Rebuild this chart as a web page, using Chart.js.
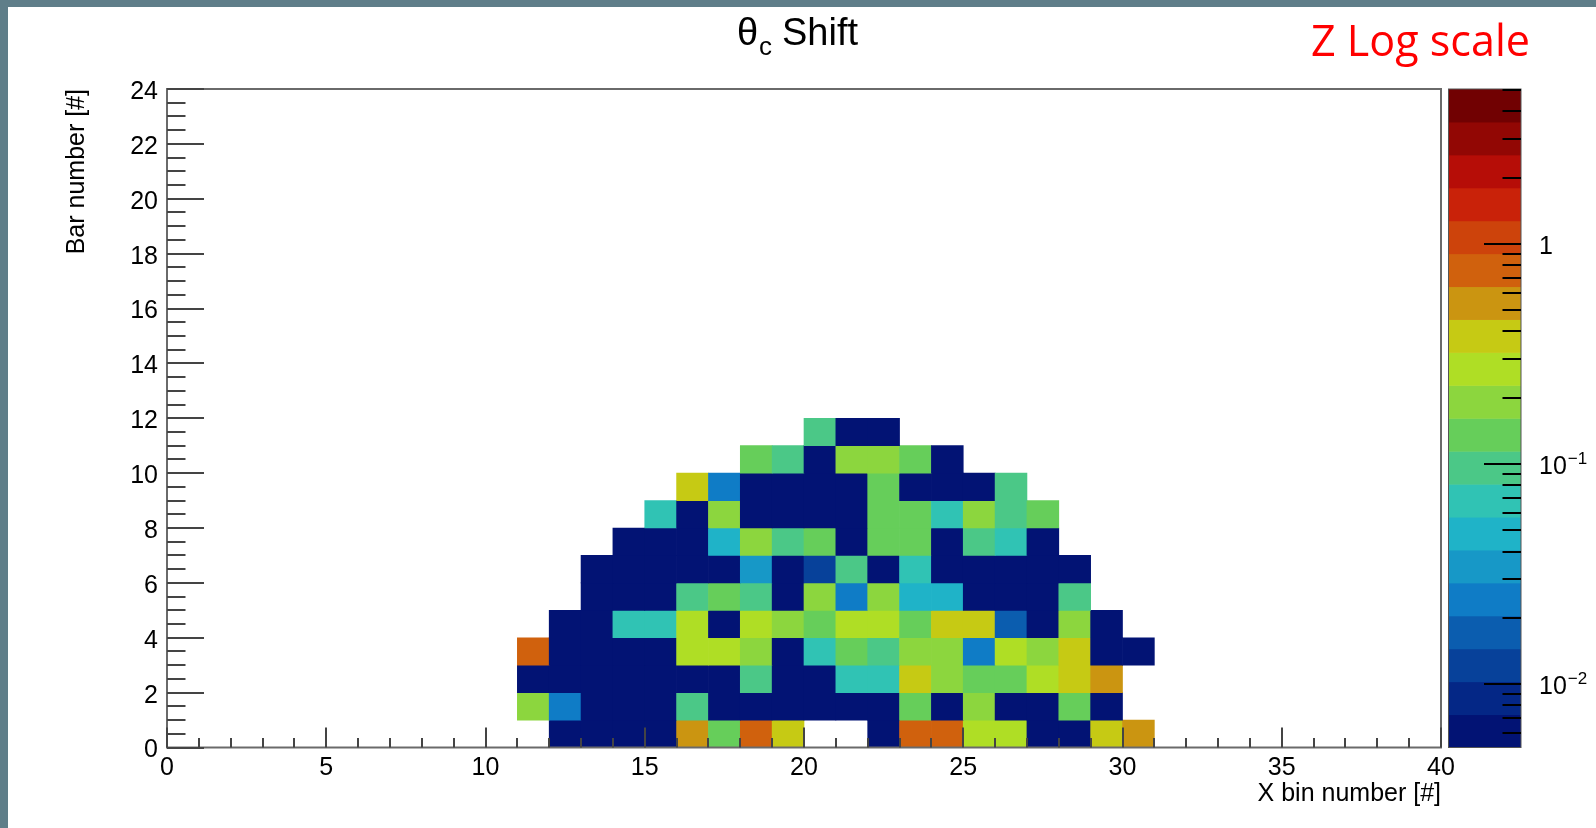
<!DOCTYPE html>
<html>
<head>
<meta charset="utf-8">
<script src="https://cdn.jsdelivr.net/npm/chart.js@4.4.1/dist/chart.umd.min.js"></script>
<style>
html,body{margin:0;padding:0;background:#fff;overflow:hidden}
canvas{display:block}
</style>
</head>
<body>
<canvas id="c" width="1596" height="828"></canvas>
<script>
// ---------------- DATA ----------------
// lower edges of the x bins that carry content (bins are 1 unit wide)
const xBinEdges = [11,12,13,14,15,16,17,18,19,20,21,22,23,24,25,26,27,28,29,30];
// lower edges of the bar (y) bins
const yBinEdges = [0,1,2,3,4,5,6,7,8,9,10,11];
// z content per bar row (x bins 11..30), null = empty bin
const zRow0  = [null,0.006,0.006,0.006,0.006,0.53,0.135,0.75,0.38,null,null,0.006,0.75,0.75,0.27,0.27,0.006,0.006,0.38,0.53];
const zRow1  = [0.19,0.024,0.006,0.006,0.006,0.095,0.006,0.006,0.006,0.006,0.006,0.006,0.135,0.006,0.19,0.006,0.006,0.135,0.006,null];
const zRow2  = [0.006,0.006,0.006,0.006,0.006,0.006,0.006,0.095,0.006,0.006,0.068,0.068,0.38,0.19,0.135,0.135,0.27,0.38,0.53,null];
const zRow3  = [0.75,0.006,0.006,0.006,0.006,0.27,0.27,0.19,0.006,0.068,0.135,0.095,0.19,0.19,0.024,0.27,0.19,0.38,0.006,0.006];
const zRow4  = [null,0.006,0.006,0.068,0.068,0.27,0.006,0.27,0.19,0.135,0.27,0.27,0.135,0.38,0.38,0.017,0.006,0.19,0.006,null];
const zRow5  = [null,null,0.006,0.006,0.006,0.095,0.135,0.095,0.006,0.19,0.024,0.19,0.048,0.048,0.006,0.006,0.006,0.095,null,null];
const zRow6  = [null,null,0.006,0.006,0.006,0.006,0.006,0.034,0.006,0.012,0.095,0.006,0.068,0.006,0.006,0.006,0.006,0.006,null,null];
const zRow7  = [null,null,null,0.006,0.006,0.006,0.048,0.19,0.095,0.135,0.006,0.135,0.135,0.006,0.095,0.068,0.006,null,null,null];
const zRow8  = [null,null,null,null,0.068,0.006,0.19,0.006,0.006,0.006,0.006,0.135,0.135,0.068,0.19,0.095,0.135,null,null,null];
const zRow9  = [null,null,null,null,null,0.38,0.024,0.006,0.006,0.006,0.006,0.135,0.006,0.006,0.006,0.095,null,null,null,null];
const zRow10 = [null,null,null,null,null,null,null,0.135,0.095,0.006,0.19,0.19,0.135,0.006,null,null,null,null,null,null];
const zRow11 = [null,null,null,null,null,null,null,null,null,0.095,0.006,0.006,null,null,null,null,null,null,null,null];
const zRows = [zRow0,zRow1,zRow2,zRow3,zRow4,zRow5,zRow6,zRow7,zRow8,zRow9,zRow10,zRow11];

// axis ticks / labels
const xMajorTicks = [0,5,10,15,20,25,30,35,40];
const yMajorTicks = [0,2,4,6,8,10,12,14,16,18,20,22,24];
const zMin = 0.00515, zMax = 5.05, zContours = 20;
const zMajorTicks = [0.01, 0.1, 1];
const zTickBase = ['10', '10', '1'];
const zTickExp  = ['\u22122', '\u22121', ''];
const zMinorTicks = [0.006,0.007,0.008,0.009,0.02,0.03,0.04,0.05,0.06,0.07,0.08,0.09,0.2,0.3,0.4,0.5,0.6,0.7,0.8,0.9,2,3,4,5];

// ---------------- PALETTE (ROOT kRainBow, 255 colours, 20 contours) ----------------
const pStops = [0,0.125,0.25,0.375,0.5,0.625,0.75,0.875,1];
const pR = [0,5,15,35,102,196,208,199,110];
const pG = [0,48,124,192,206,226,97,16,0];
const pB = [99,142,198,201,90,22,13,8,2];
const palette = [];
for (let g = 1; g < pStops.length; g++) {
  const n = Math.floor(255*pStops[g]) - Math.floor(255*pStops[g-1]);
  for (let c = 0; c < n; c++) {
    const r = pR[g-1] + c*(pR[g]-pR[g-1])/n;
    const gg = pG[g-1] + c*(pG[g]-pG[g-1])/n;
    const b = pB[g-1] + c*(pB[g]-pB[g-1])/n;
    palette.push('rgb(' + Math.round(r) + ',' + Math.round(gg) + ',' + Math.round(b) + ')');
  }
}
const logMin = Math.log10(zMin), logMax = Math.log10(zMax);
function bandColor(i) {
  const idx = Math.min(palette.length-1, Math.floor((i+0.99)*palette.length/zContours));
  return palette[idx];
}
function colorForValue(z) {
  let i = Math.floor((Math.log10(z)-logMin)/(logMax-logMin)*zContours);
  i = Math.max(0, Math.min(zContours-1, i));
  return bandColor(i);
}

// ---------------- CELLS ----------------
const cells = [];
zRows.forEach((row, yi) => row.forEach((z, xi) => {
  if (z !== null) cells.push({x: xBinEdges[xi] + 0.5, y: [yBinEdges[yi], yBinEdges[yi] + 1], z: z});
}));

const FONT = '"Liberation Sans", Arial, Helvetica, sans-serif';

const rootStyle = {
  id: 'rootStyle',
  beforeDraw(chart) {
    const ctx = chart.ctx;
    ctx.save();
    ctx.fillStyle = '#5f7e89';
    ctx.fillRect(0, 0, chart.width, chart.height);
    ctx.fillStyle = '#ffffff';
    ctx.fillRect(8, 7, chart.width - 8, chart.height - 7);
    ctx.restore();
  },
  afterDraw(chart) {
    const ctx = chart.ctx;
    const a = chart.chartArea;
    const xs = chart.scales.x, ys = chart.scales.y, zs = chart.scales.zAxis;
    ctx.save();
    // frame
    ctx.strokeStyle = '#6a6a6a';
    ctx.lineWidth = 2;
    ctx.strokeRect(a.left, a.top, a.right - a.left, a.bottom - a.top);
    // ticks
    ctx.strokeStyle = '#444';
    ctx.lineWidth = 2;
    ctx.beginPath();
    for (let v = 0; v <= 40; v++) {
      const px = Math.round(xs.getPixelForValue(v));
      const len = (v % 5 === 0) ? 20 : 9.5;
      ctx.moveTo(px, a.bottom); ctx.lineTo(px, a.bottom - len);
    }
    for (let k = 0; k <= 48; k++) {
      const v = k*0.5;
      const py = Math.round(ys.getPixelForValue(v));
      const len = (k % 4 === 0) ? 37 : 18.5;
      ctx.moveTo(a.left, py); ctx.lineTo(a.left + len, py);
    }
    ctx.stroke();

    // colour bar
    const bx0 = 1448.5, bx1 = 1521;
    const w = (logMax - logMin)/zContours;
    for (let i = 0; i < zContours; i++) {
      const y0 = zs.getPixelForValue(Math.pow(10, logMin + i*w));
      const y1 = zs.getPixelForValue(Math.pow(10, logMin + (i+1)*w));
      ctx.fillStyle = bandColor(i);
      ctx.fillRect(bx0, y1, bx1 - bx0, y0 - y1 + 0.5);
    }
    ctx.strokeStyle = '#555';
    ctx.lineWidth = 1;
    ctx.strokeRect(bx0, zs.top, bx1 - bx0, zs.bottom - zs.top);
    ctx.strokeStyle = '#000';
    ctx.lineWidth = 2;
    ctx.beginPath();
    zMinorTicks.forEach(v => {
      const py = Math.round(zs.getPixelForValue(v));
      ctx.moveTo(bx1, py); ctx.lineTo(bx1 - 18.5, py);
    });
    zMajorTicks.forEach(v => {
      const py = Math.round(zs.getPixelForValue(v));
      ctx.moveTo(bx1, py); ctx.lineTo(bx1 - 37, py);
    });
    ctx.stroke();
    // colour bar labels
    ctx.fillStyle = '#000';
    ctx.textBaseline = 'middle';
    ctx.textAlign = 'left';
    zMajorTicks.forEach((v, i) => {
      const py = zs.getPixelForValue(v) + 3;
      ctx.font = '25px ' + FONT;
      ctx.fillText(zTickBase[i], 1539, py);
      if (zTickExp[i]) {
        const wb = ctx.measureText(zTickBase[i]).width;
        ctx.font = '17px ' + FONT;
        ctx.fillText(zTickExp[i], 1539 + wb + 1, py - 8);
      }
    });

    // title  θc Shift
    ctx.fillStyle = '#000';
    ctx.textBaseline = 'alphabetic';
    ctx.font = '38px ' + FONT;
    ctx.fillText('\u03b8', 737, 45);
    ctx.font = '26px ' + FONT;
    ctx.fillText('c', 759, 55);
    ctx.font = '38px ' + FONT;
    ctx.fillText('Shift', 782, 45);

    // annotation
    ctx.fillStyle = '#ff0000';
    ctx.font = '43px "Open Sans", "Noto Sans", sans-serif';
    const txt = 'Z Log scale';
    const tw = ctx.measureText(txt).width;
    ctx.save();
    ctx.translate(1311, 56);
    ctx.scale(219 / tw, 1);
    ctx.fillText(txt, 0, 0);
    ctx.restore();
    ctx.restore();
  }
};

new Chart(document.getElementById('c'), {
  type: 'bar',
  data: {
    datasets: [{
      data: cells,
      backgroundColor: (c) => (c.raw && c.raw.z) ? colorForValue(c.raw.z) : '#000',
      borderWidth: 0,
      barPercentage: 1,
      categoryPercentage: 1,
      grouped: false
    }]
  },
  options: {
    responsive: false,
    devicePixelRatio: 1,
    animation: false,
    events: [],
    layout: {padding: {left: 0, top: 89, right: 155, bottom: 0}},
    plugins: {legend: {display: false}, tooltip: {enabled: false}, title: {display: false}},
    scales: {
      x: {
        type: 'linear', min: 0, max: 40, offset: false,
        grid: {display: false, drawTicks: false},
        border: {display: false},
        ticks: {font: {family: FONT, size: 25}, color: '#000', padding: 6, autoSkip: false, maxRotation: 0},
        afterBuildTicks: (s) => { s.ticks = xMajorTicks.map(v => ({value: v})); },
        title: {display: true, text: 'X bin number [#]', align: 'end', color: '#000',
                font: {family: FONT, size: 25}, padding: {top: 0, bottom: 19}},
        afterFit: (s) => { s.height = 80.5; s.paddingLeft = 0; s.paddingRight = 0; }
      },
      y: {
        type: 'linear', min: 0, max: 24,
        grid: {display: false, drawTicks: false},
        border: {display: false},
        ticks: {font: {family: FONT, size: 25}, color: '#000', padding: 9, autoSkip: false, labelOffset: 3},
        afterBuildTicks: (s) => { s.ticks = yMajorTicks.map(v => ({value: v})); },
        title: {display: true, text: 'Bar number [#]', align: 'end', color: '#000',
                font: {family: FONT, size: 25}, padding: {top: 62, bottom: 0}},
        afterFit: (s) => { s.width = 167; s.paddingTop = 0; s.paddingBottom = 0; }
      },
      zAxis: {
        type: 'logarithmic', axis: 'y', position: 'right', display: false, min: zMin, max: zMax
      }
    }
  },
  plugins: [rootStyle]
});
</script>
</body>
</html>
